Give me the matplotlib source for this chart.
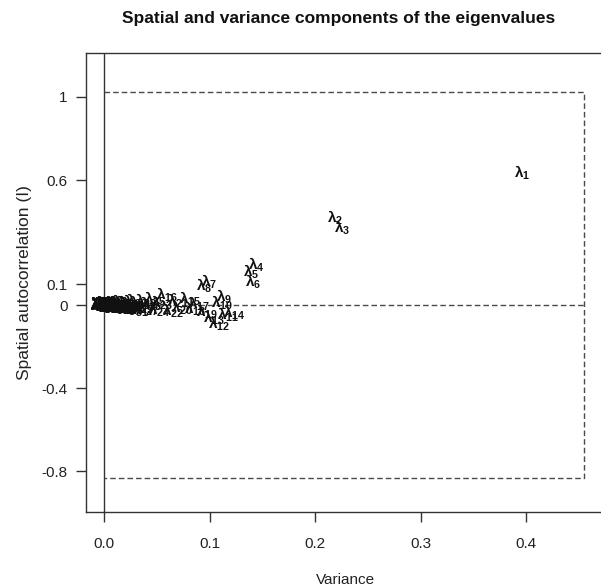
import matplotlib
matplotlib.use("Agg")
import matplotlib.pyplot as plt

plt.rcParams['font.family'] = ['Liberation Sans', 'DejaVu Sans']
plt.rcParams['mathtext.fontset'] = 'custom'
plt.rcParams['mathtext.rm'] = 'Liberation Sans'
plt.rcParams['mathtext.it'] = 'Liberation Sans'
plt.rcParams['mathtext.bf'] = 'Liberation Sans:bold'

title = "Spatial and variance components of the eigenvalues"
x_label = "Variance"
y_label = "Spatial autocorrelation (I)"

# Variance component of each eigenvalue (lambda_1, lambda_2, ...)
variance = [
    0.396, 0.219, 0.226, 0.144, 0.139, 0.141, 0.100, 0.095, 0.114, 0.112,
    0.118, 0.109, 0.104, 0.123, 0.082, 0.060, 0.090, 0.086, 0.098, 0.074,
    0.070, 0.065, 0.055, 0.052, 0.048, 0.045, 0.042, 0.040, 0.037, 0.034,
    0.0325, 0.0312, 0.0298, 0.0291, 0.0277, 0.0268, 0.0259, 0.0246, 0.0238, 0.0229,
    0.0221, 0.0209, 0.0201, 0.0193, 0.0184, 0.0176, 0.0171, 0.0163, 0.0158, 0.0152,
    0.0147, 0.0141, 0.0136, 0.0132, 0.0127, 0.0123, 0.0118, 0.0113, 0.0109, 0.0104,
    0.0100, 0.0096, 0.0093, 0.0089, 0.0086, 0.0084, 0.0080, 0.0077, 0.0075, 0.0071,
    0.0068, 0.0066, 0.0063, 0.0060, 0.0057, 0.0055, 0.0052, 0.0049, 0.0047, 0.0044,
    0.0041, 0.0039, 0.0037, 0.0035, 0.0032, 0.0030, 0.0028, 0.0026, 0.0024, 0.0022,
    0.0020, 0.0018, 0.0016, 0.0015, 0.0013, 0.0011, 0.0010, 0.0009, 0.0008, 0.0007,
    0.0006, 0.0005, 0.0004, 0.00035, 0.0003, 0.00025, 0.0002, 0.00015, 0.0001, 0.00005,
]
# Spatial autocorrelation (Moran's I) of each eigenvalue
moran_i = [
    0.635, 0.420, 0.372, 0.192, 0.160, 0.112, 0.114, 0.092, 0.040, 0.012,
    -0.045, -0.088, -0.062, -0.038, 0.030, 0.048, 0.008, -0.020, -0.035, -0.015,
    0.020, -0.030, 0.010, -0.025, 0.030, 0.005, -0.018, 0.022, -0.010, 0.012,
    -0.022, 0.018, -0.005, 0.015, -0.012, 0.008, -0.020, 0.004, 0.012, -0.008,
    0.010, -0.015, 0.006, -0.004, 0.014, -0.010, 0.002, 0.009, -0.006, 0.011,
    -0.012, 0.004, -0.003, 0.008, -0.009, 0.006, 0.001, -0.007, 0.010, -0.004,
    0.005, -0.010, 0.007, -0.002, 0.003, -0.008, 0.006, 0.000, -0.005, 0.008,
    0.002, -0.006, 0.004, -0.003, 0.007, -0.001, 0.003, -0.004, 0.002, 0.000,
    0.006, -0.005, 0.003, 0.009, -0.007, 0.001, -0.002, 0.005, -0.008, 0.004,
    0.007, -0.003, 0.002, -0.006, 0.005, 0.000, -0.004, 0.003, 0.006, -0.002,
    0.001, -0.005, 0.004, -0.001, 0.002, -0.003, 0.003, 0.000, -0.002, 0.001,
]

# Bounds of Moran's I and the largest variance
i_max = 1.024
i_min = -0.832
var_max = 0.455

x_ticks = [0.0, 0.1, 0.2, 0.3, 0.4]
x_tick_labels = ["0.0", "0.1", "0.2", "0.3", "0.4"]
y_ticks = [1, 0.6, 0.1, 0, -0.4, -0.8]
y_tick_labels = ["1", "0.6", "0.1", "0", "-0.4", "-0.8"]

fig = plt.figure(figsize=(6.01, 5.88), dpi=100)
ax = fig.add_axes([86 / 601, 76 / 588, 520 / 601, 459 / 588])
ax.set_xlim(-0.01706, 0.4758)
ax.set_ylim(-0.995, 1.2115)

edge = "#333333"
for s in ax.spines.values():
    s.set_color(edge)
    s.set_linewidth(1.0)

# Reference lines: zero variance, zero autocorrelation and the bounding box
ax.axvline(0, color=edge, lw=1.0)
dash = dict(color="#4a4a4a", lw=1.0, ls=(0, (4, 2.2)))
ax.plot([0, var_max], [0, 0], **dash)
ax.plot([0, var_max, var_max, 0], [i_max, i_max, i_min, i_min], **dash)

for k, (v, m) in enumerate(zip(variance, moran_i), start=1):
    ax.text(v, m, rf"λ$_{{\mathbf{{{k}}}}}$", ha="center", va="center",
            fontsize=11, fontweight="bold", color="#111111")

ax.set_xticks(x_ticks)
ax.set_xticklabels(x_tick_labels)
ax.set_yticks(y_ticks)
ax.set_yticklabels(y_tick_labels)
ax.tick_params(axis="both", direction="out", length=7.2, width=1.0,
               color=edge, labelsize=11, labelcolor="#222222")
ax.tick_params(axis="x", pad=11)
ax.tick_params(axis="y", pad=6)

ax.set_xlabel(x_label, fontsize=11, color="#222222", labelpad=16)
ax.set_ylabel(y_label, fontsize=12.5, color="#222222", labelpad=7)
fig.text(339 / 601, 1 - 18 / 588, title, ha="center", va="center",
         fontsize=12.5, fontweight="bold", color="#111111")

fig.savefig("out.png", dpi=100)
